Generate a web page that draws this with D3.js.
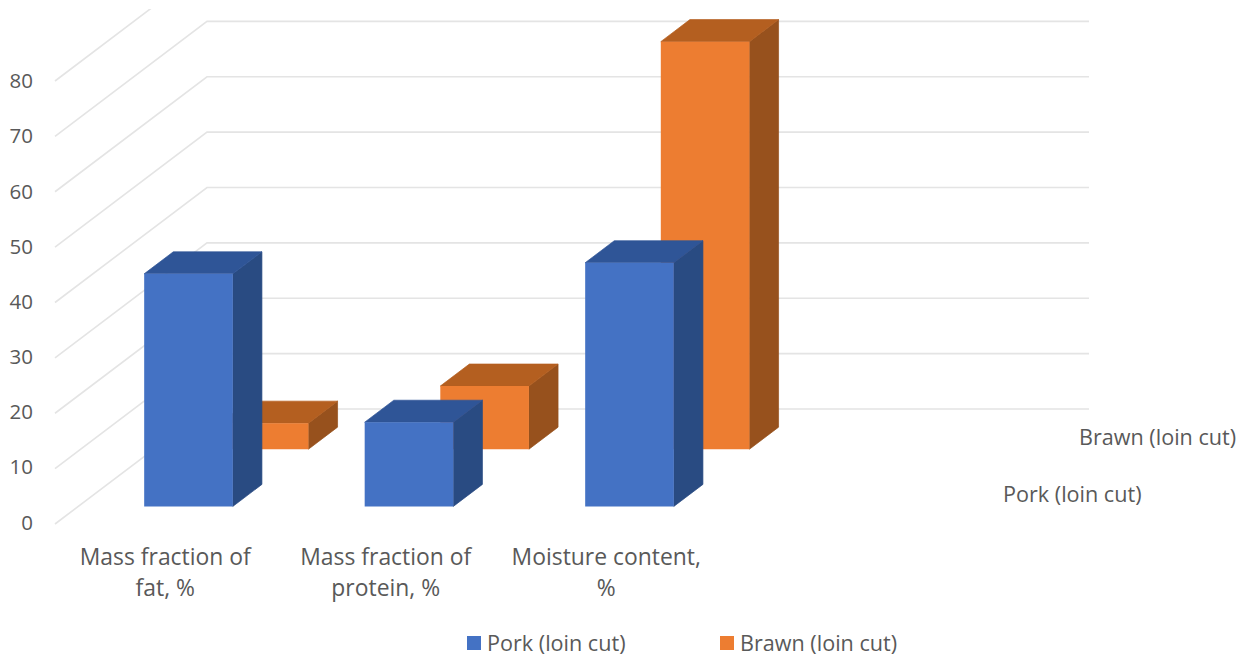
<!DOCTYPE html>
<html>
<head>
<meta charset="utf-8">
<style>
  html, body { margin: 0; padding: 0; background: #fff; }
  svg { display: block; }
  text { font-family: "Open Sans", sans-serif; font-size: 21.6px; fill: #595959; }
  .tick-label { font-size: 20.5px; }
  .category-label { font-size: 22.9px; }
</style>
<script src="https://cdnjs.cloudflare.com/ajax/libs/d3/7.9.0/d3.min.js"></script>
</head>
<body>
<svg id="chart" width="1243" height="657"></svg>
<script>
// Values per category; the fourth category slot is intentionally empty.
const categories = ["Mass fraction of fat, %", "Mass fraction of protein, %", "Moisture content, %", ""];
const categoryLines = [["Mass fraction of", "fat, %"], ["Mass fraction of", "protein, %"], ["Moisture content,", "%"], []];
const seriesNames = ["Pork (loin cut)", "Brawn (loin cut)"];
const pork = [42, 15.2, 44];
const brawn = [4.7, 11.4, 73.6];
const tickValues = [0, 10, 20, 30, 40, 50, 60, 70, 80];

const frontFaces = ["#4472C4", "#ED7D31"];
const sideFaces = ["#294B82", "#97511D"];
const topFaces = ["#2F5597", "#B45F20"];

// Oblique projection: width runs right, value runs up, depth runs up and to the right.
const origin = { x: 55, y: 524 };
const depthVector = { x: 152, y: -115 };

const x = d3.scaleBand().domain(categories).range([0, 882]);
const y = d3.scaleLinear().domain([0, 80]).range([0, 443]);
const z = d3.scaleBand().domain(seriesNames).range([0, 0.995]);
const labelY = d3.scaleLinear().domain([0, 80]).range([522.5, 81]);

const barWidth = x.step() * 0.402;
const barDepth = z.step() * 0.385;

const project = (px, value, depth) => [
  origin.x + px + depthVector.x * depth,
  origin.y - y(value) + depthVector.y * depth
];
const poly = pts => d3.line()(pts) + "Z";

const svg = d3.select("#chart");

// Wall grid: one bent line per tick, cut off at the top of the plot.
svg.append("clipPath").attr("id", "plot-clip")
  .append("rect").attr("x", 0).attr("y", 9).attr("width", 1243).attr("height", 648);

const grid = svg.append("g").attr("clip-path", "url(#plot-clip)");
grid.selectAll("path").data(tickValues).join("path")
  .attr("d", v => d3.line()([
    project(0, v, 0),
    project(0, v, 1),
    project(x.range()[1], v, 1)
  ]))
  .attr("fill", "none")
  .attr("stroke", "#e4e4e4")
  .attr("stroke-width", 1.6);

// Value axis labels
svg.append("g").selectAll("text").data(tickValues).join("text")
  .attr("class", "tick-label")
  .attr("x", 33)
  .attr("y", v => labelY(v))
  .attr("dy", "0.35em")
  .attr("text-anchor", "end")
  .text(v => v);

// Bars, far row first so the near row overlaps it
const rows = [
  { index: 1, name: seriesNames[1], values: brawn },
  { index: 0, name: seriesNames[0], values: pork }
];
rows.forEach(row => {
  const g = svg.append("g");
  row.values.forEach((value, i) => {
    const x0 = x(categories[i]) + (x.step() - barWidth) / 2;
    const x1 = x0 + barWidth;
    const z0 = z(row.name) + (z.step() - barDepth) / 2;
    const z1 = z0 + barDepth;
    // A hairline stroke closes the seam between neighbouring faces.
    g.append("path").attr("fill", sideFaces[row.index]).attr("stroke", sideFaces[row.index]).attr("stroke-width", 0.7)
      .attr("d", poly([project(x1, 0, z0), project(x1, 0, z1), project(x1, value, z1), project(x1, value, z0)]));
    g.append("path").attr("fill", topFaces[row.index]).attr("stroke", topFaces[row.index]).attr("stroke-width", 0.7)
      .attr("d", poly([project(x0, value, z0), project(x1, value, z0), project(x1, value, z1), project(x0, value, z1)]));
    g.append("path").attr("fill", frontFaces[row.index])
      .attr("d", poly([project(x0, 0, z0), project(x1, 0, z0), project(x1, value, z0), project(x0, value, z0)]));
  });
});

// Category labels
const catLabels = svg.append("g").selectAll("text").data(categoryLines).join("text")
  .attr("class", "category-label")
  .attr("text-anchor", "middle");
catLabels.selectAll("tspan").data((d, i) => d.map(line => ({ line, cx: origin.x + x(categories[i]) + x.step() / 2 })))
  .join("tspan")
  .attr("x", d => d.cx)
  .attr("y", (d, j) => 565 + j * 31)
  .text(d => d.line);

// Depth axis labels
const depthLabelPos = { [seriesNames[0]]: [1003, 502], [seriesNames[1]]: [1079, 445] };
svg.append("g").selectAll("text").data(seriesNames).join("text")
  .attr("x", d => depthLabelPos[d][0])
  .attr("y", d => depthLabelPos[d][1])
  .text(d => d);

// Legend
const legendPos = [467, 720];
const legend = svg.append("g").selectAll("g").data(seriesNames).join("g")
  .attr("transform", (d, i) => `translate(${legendPos[i]},636)`);
legend.append("rect").attr("width", 14).attr("height", 14)
  .attr("fill", (d, i) => frontFaces[i]);
legend.append("text").attr("x", 20).attr("y", 15).text(d => d);
</script>
</body>
</html>
